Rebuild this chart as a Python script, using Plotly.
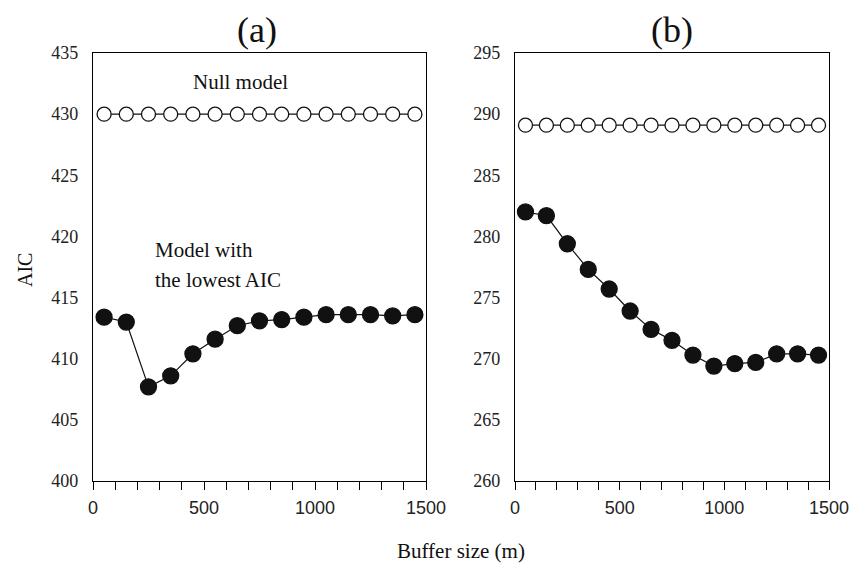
import plotly.graph_objects as go

buffer_m = [50, 150, 250, 350, 450, 550, 650, 750, 850, 950, 1050, 1150, 1250, 1350, 1450]
null_a = [430.0] * 15
best_a = [413.4, 413.0, 407.7, 408.6, 410.4, 411.6, 412.7, 413.1, 413.2, 413.4, 413.6, 413.6, 413.6, 413.5, 413.6]
null_b = [289.1] * 15
best_b = [282.0, 281.7, 279.4, 277.3, 275.7, 273.9, 272.4, 271.5, 270.3, 269.4, 269.6, 269.7, 270.4, 270.4, 270.3]

x_ticks = [0, 500, 1000, 1500]
y_ticks_a = [400, 405, 410, 415, 420, 425, 430, 435]
y_ticks_b = [260, 265, 270, 275, 280, 285, 290, 295]

# page body has an 8px default margin; figure is sized to fit the window
OFF = 8
W, H = 857 - OFF, 563 - OFF
SERIF = "Liberation Serif, Times New Roman, serif"
SANS = "Liberation Sans, Arial, sans-serif"

def px(x):
    return (x - OFF) / W

def py(y):
    return 1 - (y - OFF) / H

fig = go.Figure()

def add_series(x, y, xa, ya, filled):
    fig.add_trace(go.Scatter(
        x=x, y=y, mode="lines+markers", xaxis=xa, yaxis=ya, showlegend=False,
        line=dict(color="#111", width=1.2),
        marker=dict(symbol="circle", size=16 if filled else 14,
                    color="#111" if filled else "white",
                    line=dict(color="#111", width=1.3)),
    ))

add_series(buffer_m, null_a, "x", "y", False)
add_series(buffer_m, best_a, "x", "y", True)
add_series(buffer_m, null_b, "x2", "y2", False)
add_series(buffer_m, best_b, "x2", "y2", True)

ydom = [py(481), py(53)]

def xaxis(dom, anchor):
    return dict(domain=dom, anchor=anchor, range=[0, 1500], tickvals=x_ticks,
                ticks="outside", ticklen=8, tickwidth=1, tickcolor="black",
                minor=dict(dtick=100, tick0=0, ticks="outside", ticklen=8, tickwidth=1, tickcolor="black"),
                showline=True, linecolor="black", linewidth=1.3, mirror=True,
                showgrid=False, zeroline=False, ticklabelstandoff=2, automargin=False,
                tickfont=dict(family=SANS, size=18, color="#222"))

def yaxis(dom, anchor, rng, vals):
    return dict(domain=dom, anchor=anchor, range=rng, tickvals=vals,
                ticks="", ticklabelstandoff=10, automargin=False,
                showline=True, linecolor="black", linewidth=1.3, mirror=True,
                showgrid=False, zeroline=False,
                tickfont=dict(family=SERIF, size=18, color="#222"))

fig.update_layout(
    width=W, height=H, margin=dict(l=0, r=0, t=0, b=0, pad=0, autoexpand=False),
    paper_bgcolor="white", plot_bgcolor="white",
    xaxis=xaxis([px(93), px(426)], "y"),
    yaxis=yaxis(ydom, "x", [400, 435], y_ticks_a),
    xaxis2=xaxis([px(515), px(829)], "y2"),
    yaxis2=yaxis(ydom, "x2", [260, 295], y_ticks_b),
)

def ann(text, x, y, size, xanchor="center", textangle=0):
    fig.add_annotation(text=text, x=px(x), y=py(y), xref="paper", yref="paper",
                       showarrow=False, xanchor=xanchor, yanchor="middle",
                       textangle=textangle,
                       font=dict(family=SERIF, size=size, color="#111"))

ann("(a)", 257, 30, 36)
ann("(b)", 672, 30, 36)
ann("Null model", 240, 82, 21)
ann("Model with", 153, 250, 21, xanchor="left")
ann("the lowest AIC", 153, 280, 21, xanchor="left")
ann("AIC", 25, 270, 20, textangle=-90)
ann("Buffer size (m)", 461, 551, 21)

fig.write_html("out.html")
